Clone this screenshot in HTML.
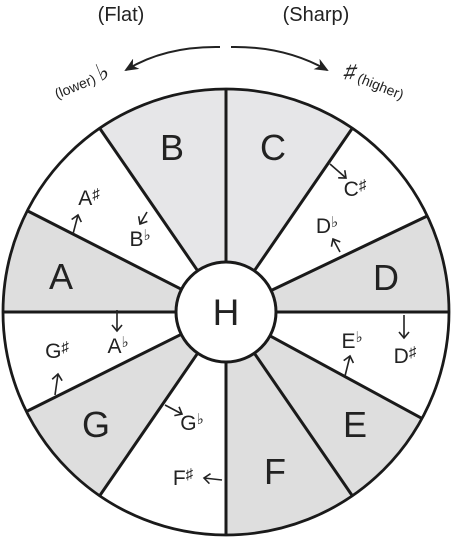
<!DOCTYPE html>
<html><head><meta charset="utf-8"><style>
body{margin:0;background:#fff;width:453px;height:539px;overflow:hidden}
svg{display:block}
text{font-family:"Liberation Sans","DejaVu Sans",sans-serif;fill:#222}
</style></head><body>
<svg id="c" width="453" height="539" viewBox="0 0 453 539">
<defs>
<marker id="ah" markerWidth="14" markerHeight="12" refX="12" refY="6" orient="auto" markerUnits="userSpaceOnUse"><path d="M0,0 L14,6 L0,12 L4,6 Z" fill="#222"/></marker>
<marker id="oh" markerWidth="12" markerHeight="12" refX="8" refY="6" orient="auto" markerUnits="userSpaceOnUse"><path d="M2,1 L8,6 L2,11" fill="none" stroke="#222" stroke-width="1.6"/></marker>
</defs>
<text x="121" y="21" font-size="20" text-anchor="middle">(Flat)</text>
<text x="316" y="21" font-size="20" text-anchor="middle">(Sharp)</text>
<path d="M220,47 Q165,46 126,70" fill="none" stroke="#222" stroke-width="2" marker-end="url(#ah)"/>
<path d="M231,47 Q285,46 327,70" fill="none" stroke="#222" stroke-width="2" marker-end="url(#ah)"/>
<text transform="translate(84,88) rotate(-22)" font-size="14" text-anchor="middle">(lower) <tspan font-size="24" font-style="italic">♭</tspan></text>
<text transform="translate(372,88) rotate(22)" font-size="14" text-anchor="middle"><tspan font-size="22">♯</tspan> (higher)</text>
<g id="wheel"></g>
</svg>
<script>
// sector boundaries (math degrees, counterclockwise from east)
const startAngles=[0,25.5,55.5,90,124.5,153,180,206.5,235.5,270,304.5,331.5];
const endAngles  =[25.5,55.5,90,124.5,153,180,206.5,235.5,270,304.5,331.5,360];
const sectorNames=["D","C#/Db","C","B","A#/Bb","A","G#/Ab","G","F#/Gb","F","E","D#/Eb"];
const sectorFills=["#dedede","#ffffff","#e6e6e8","#e6e6e8","#ffffff","#dedede","#ffffff","#dedede","#ffffff","#dedede","#dedede","#ffffff"];
const bigLabels=[["B",172,147],["C",273,147],["A",61,276],["D",386,277],["G",96,424],["E",355,424],["F",275,471]];
const smallLabels=[["A","♯",89,197],["B","♭",140,238],["C","♯",355,188],["D","♭",327,225],["A","♭",118,345],["G","♯",57,350],["E","♭",352,340],["D","♯",405,355],["G","♭",192,422],["F","♯",183,477]];
const smallArrows=[[73,234,78,215],[147,212,140,224],[330,164,346,178],[340,252,333,239],[117,310,117,331],[55,395,58,374],[345,376,350,356],[404,315,404,338],[165,405,182,414],[222,480,204,478]];
const cx=226,cy=312,R=223,r=50;
const NS="http://www.w3.org/2000/svg";
const g=document.getElementById('wheel');
function pt(a,rad){const t=a*Math.PI/180;return [cx+rad*Math.cos(t),cy-rad*Math.sin(t)];}
function mk(tag,attrs){const e=document.createElementNS(NS,tag);for(const k in attrs)e.setAttribute(k,attrs[k]);g.appendChild(e);return e;}
startAngles.forEach((a0,i)=>{
  const a1=endAngles[i];
  const p0=pt(a0,R),p1=pt(a1,R);
  const e=mk('path',{d:`M${cx},${cy} L${p0[0]},${p0[1]} A${R},${R} 0 0 0 ${p1[0]},${p1[1]} Z`,fill:sectorFills[i],stroke:'none'});
  
  
});
startAngles.forEach((a)=>{
  const p0=pt(a,r),p1=pt(a,R);
  const e=mk('line',{x1:p0[0],y1:p0[1],x2:p1[0],y2:p1[1],stroke:'#1a1a1a','stroke-width':3});
  
  
});
const oc=mk('circle',{cx:cx,cy:cy,r:R,fill:'none',stroke:'#1a1a1a','stroke-width':2.8});


const hc=mk('circle',{cx:cx,cy:cy,r:r,fill:'#fff',stroke:'#1a1a1a','stroke-width':3});


const ht=mk('text',{x:cx,y:cy+13,'font-size':37,'text-anchor':'middle'});
ht.textContent='H';


bigLabels.forEach(b=>{
  const t=mk('text',{x:b[1],y:b[2]+13,'font-size':36,'text-anchor':'middle'});
  t.textContent=b[0];
  
  
});
smallLabels.forEach(s=>{
  const t=mk('text',{x:s[2],y:s[3]+8,'font-size':21,'text-anchor':'middle'});
  t.textContent=s[0];
  const ts=document.createElementNS(NS,'tspan');
  ts.setAttribute('font-size','15');ts.setAttribute('dy','-6');
  ts.textContent=s[1];t.appendChild(ts);
  
  
});
smallArrows.forEach(s=>{
  const l=mk('line',{x1:s[0],y1:s[1],x2:s[2],y2:s[3],stroke:'#222','stroke-width':1.6,'marker-end':'url(#oh)'});
  
  
});
</script>
</body></html>
